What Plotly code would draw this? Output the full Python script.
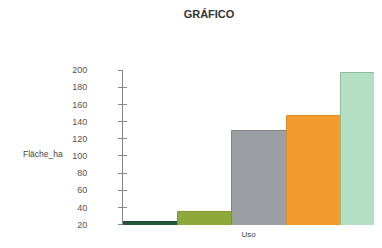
import plotly.graph_objects as go

categories = ["A", "B", "C", "D", "E"]
values = [23, 35, 129, 147, 196]
colors = ["#24583c", "#8fa83c", "#9b9ea2", "#f39b2c", "#b4dfc2"]
line_colors = ["#1d4a31", "#7f9832", "#7f8286", "#e0891f", "#8cbf9c"]
tick_vals = [20, 40, 60, 80, 100, 120, 140, 160, 180, 200]

# the page body adds an 8px margin on every side, so the figure is laid out shifted/smaller
OFF = 8
W, H = 382 - 2 * OFF, 248 - 2 * OFF
L, R, T = 123 - OFF, 0, 70 - OFF
B = H - (225 - OFF)
BAR_PX = 54.5
x_end = -0.5 + (W - L - R) / BAR_PX

fig = go.Figure()
fig.add_trace(go.Bar(
    x=categories, y=values,
    marker=dict(color=colors, line=dict(color=line_colors, width=1)),
    showlegend=False, hoverinfo="skip",
))
# invisible trace on the overlaying axis so its inside ticks render
fig.add_trace(go.Scatter(x=[categories[0]], y=[values[0]], yaxis="y2",
                         mode="markers", marker=dict(opacity=0),
                         showlegend=False, hoverinfo="skip"))

axis_font = dict(family="Liberation Sans, Arial, sans-serif", size=9, color="#555555")

fig.update_layout(
    width=W, height=H,
    margin=dict(l=L, r=R, t=T, b=B),
    paper_bgcolor="white", plot_bgcolor="white",
    bargap=0,
    title=dict(text="<b>GRÁFICO</b>", x=(209 - OFF) / W, xanchor="center",
               y=1 - (14 - OFF) / H, yanchor="middle",
               font=dict(family="Liberation Sans, Arial, sans-serif", size=11, color="#333333")),
    xaxis=dict(range=[-0.5, x_end], showticklabels=False, ticks="", showline=False,
               showgrid=False, zeroline=False,
               title=dict(text="Uso", standoff=6,
                          font=dict(family="Liberation Sans, Arial, sans-serif", size=8, color="#444444"))),
    yaxis=dict(range=[19.5, 200], tickvals=tick_vals, ticks="outside", ticklen=4,
               tickcolor="#888888", showline=True, linecolor="#888888", linewidth=1,
               showgrid=False, zeroline=False, tickfont=axis_font,
               ticklabelstandoff=29),
    yaxis2=dict(range=[19.5, 200], overlaying="y", side="left", tickvals=tick_vals,
                ticks="inside", ticklen=4, tickcolor="#888888", showticklabels=False,
                showline=False, showgrid=False, zeroline=False),
    annotations=[dict(text="Fläche_ha", xref="paper", yref="paper",
                      x=(65 - OFF - L) / (W - L - R), xanchor="right",
                      y=(H - B - (154 - OFF)) / (H - T - B), yanchor="middle",
                      showarrow=False,
                      font=dict(family="Liberation Sans, Arial, sans-serif", size=8.5, color="#444444"))],
)

fig.write_html("out.html")
